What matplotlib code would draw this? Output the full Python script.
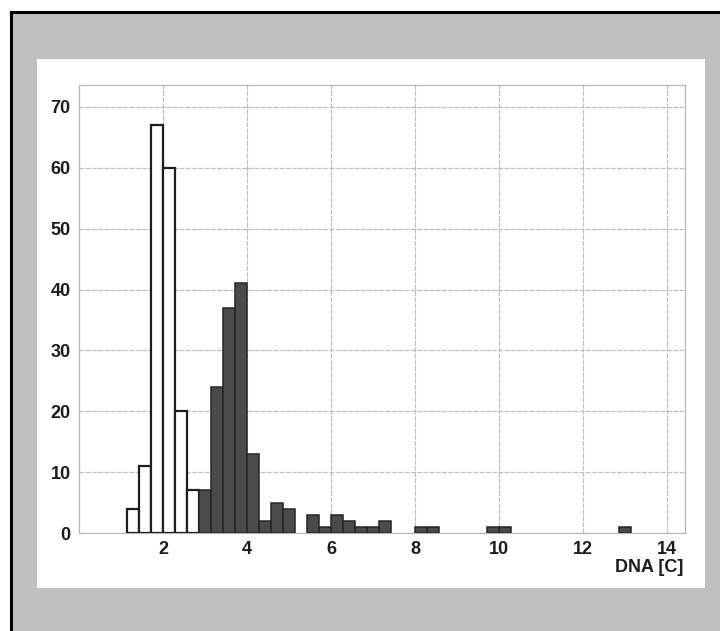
# -*- encoding: utf-8 -*-

import matplotlib.pyplot as plt
from matplotlib.patches import Rectangle
from matplotlib.lines import Line2D

# DNA content histogram, bin width 2/7 C
bin_width = 2 / 7

# open (white) bars: left edges (C) and counts
open_left = [8/7, 10/7, 12/7, 14/7, 16/7, 18/7]
open_counts = [4, 11, 67, 60, 20, 7]

# filled (dark) bars: left edges (C) and counts
dark_left = [20/7, 22/7, 24/7, 26/7, 28/7, 30/7, 32/7, 34/7,
             38/7, 40/7, 42/7, 44/7, 46/7, 48/7, 50/7,
             56/7, 58/7, 68/7, 70/7, 90/7]
dark_counts = [7, 24, 37, 41, 13, 2, 5, 4,
               3, 1, 3, 2, 1, 1, 2,
               1, 1, 1, 1, 1]

x_ticks = [2, 4, 6, 8, 10, 12, 14]
y_ticks = [0, 10, 20, 30, 40, 50, 60, 70]

W, H = 720, 631
fig = plt.figure(figsize=(W / 100, H / 100), dpi=100, facecolor='white')

# gray frame with black left/top border, white panel inside
fig.add_artist(Rectangle((11 / W, 0), 1, 1 - 12 / H, transform=fig.transFigure,
                         facecolor='#c0c0c0', edgecolor='none', zorder=0))
fig.add_artist(Line2D([11 / W, 11 / W], [0, 1 - 12 / H], transform=fig.transFigure,
                      color='black', lw=2.2, zorder=1))
fig.add_artist(Line2D([11 / W, 1], [1 - 12 / H, 1 - 12 / H], transform=fig.transFigure,
                      color='black', lw=2.2, zorder=1))
fig.add_artist(Rectangle((37 / W, 1 - 588 / H), (705 - 37) / W, (588 - 59) / H,
                         transform=fig.transFigure, facecolor='white',
                         edgecolor='none', zorder=1))

ax = fig.add_axes([79 / W, 1 - 533 / H, (685 - 79) / W, (533 - 85) / H])
ax.set_facecolor('none')
ax.set_zorder(2)

ax.bar(open_left, open_counts, width=bin_width, align='edge',
       facecolor='white', edgecolor='#1e1e1e', linewidth=1.6, zorder=3)
ax.bar(dark_left, dark_counts, width=bin_width, align='edge',
       facecolor='#4b4b4b', edgecolor='#262626', linewidth=1.1, zorder=3)

ax.set_xlim(0, 14.43)
ax.set_ylim(0, 73.6)
ax.set_xticks(x_ticks)
ax.set_yticks(y_ticks)
ax.grid(True, color='#c0c0c0', linewidth=0.9, linestyle=(0, (4, 1)), zorder=0)
ax.set_axisbelow(True)
for s in ax.spines.values():
    s.set_color('#b8b8b8')
    s.set_linewidth(0.9)

ax.tick_params(length=0, pad=6, labelsize=13, labelcolor='#1c1c1c')
for lab in ax.get_xticklabels() + ax.get_yticklabels():
    lab.set_fontweight('bold')
    lab.set_family('Liberation Sans')

ax.text(0.997, -0.076, 'DNA [C]', transform=ax.transAxes, ha='right', va='center',
        fontsize=13, fontweight='bold', color='#1c1c1c', family='Liberation Sans')

plt.savefig('out.png', dpi=100, facecolor='white')
